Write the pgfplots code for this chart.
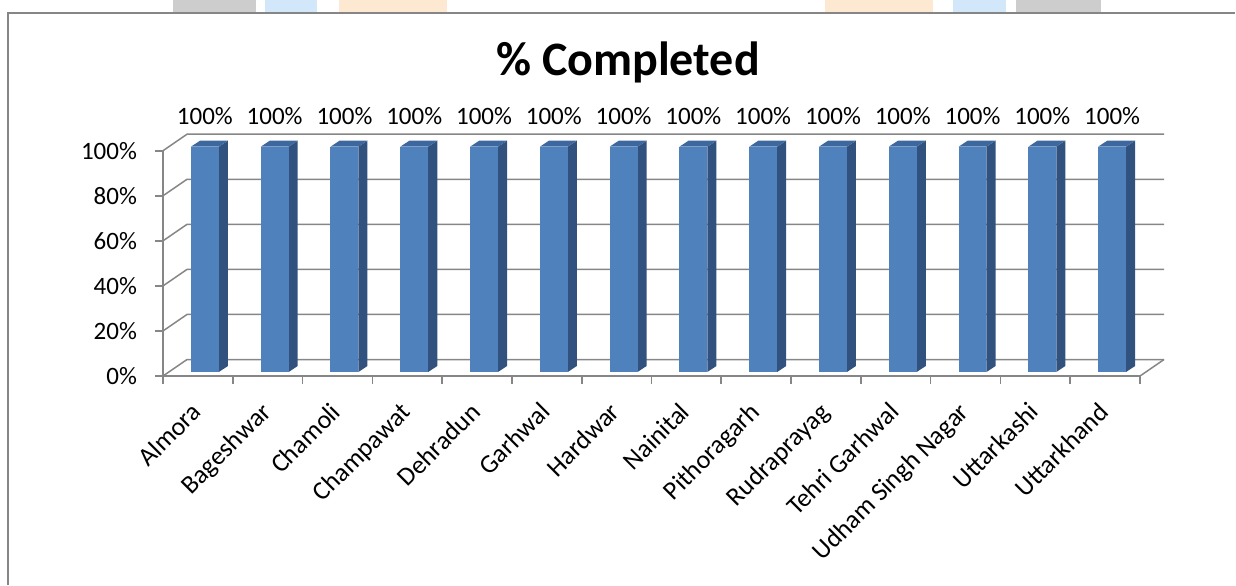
\documentclass[border=0pt]{standalone}
\usepackage{fontspec}
\setmainfont{Carlito}
\usepackage{pgfplots}
\usepackage{pgfplotstable}
\pgfplotsset{compat=1.18}
\definecolor{barfront}{HTML}{4F81BD}
\definecolor{barside}{HTML}{31527F}
\definecolor{bartop}{HTML}{3D689F}
\definecolor{gridgray}{HTML}{868686}
\definecolor{wmgray}{HTML}{CDCDCD}
\definecolor{wmblue}{HTML}{D2E7FA}
\definecolor{wmorange}{HTML}{FDE8D2}
\pgfplotstableread{
idx value
0 100
1 100
2 100
3 100
4 100
5 100
6 100
7 100
8 100
9 100
10 100
11 100
12 100
13 100
}\datatable
\begin{document}
\begin{tikzpicture}
\path[use as bounding box] (0,0) rectangle (618pt,-292.5pt);
% faint background shapes above the chart frame
\fill[wmgray] (86.5pt,0pt) rectangle (128pt,-6.5pt);
\fill[wmblue] (132.5pt,0pt) rectangle (158.5pt,-6.5pt);
\fill[wmorange] (169.5pt,0pt) rectangle (223.5pt,-6.5pt);
\fill[wmorange] (412.5pt,0pt) rectangle (466.5pt,-6.5pt);
\fill[wmblue] (476.5pt,0pt) rectangle (503pt,-6.5pt);
\fill[wmgray] (508pt,0pt) rectangle (550.5pt,-6.5pt);
% chart frame
\draw[gridgray, line width=0.75pt] (4pt,-292.5pt) -- (4pt,-6.5pt) -- (617.5pt,-6.5pt);
% title
\node[anchor=base, font=\fontsize{24}{28}\selectfont\bfseries] at (314pt,-37.5pt) {\% Completed};
\begin{axis}[
  at={(81.5pt,-188pt)}, anchor=south west,
  scale only axis, width=488.5pt, height=112.65pt,
  xmin=0, xmax=14, ymin=0, ymax=100,
  clip=false,
  axis x line*=bottom, axis y line*=left,
  axis line style={gridgray, line width=0.8pt, -},
  tick align=outside,
  major tick length=4pt,
  tick style={gridgray, line width=0.8pt},
  ytick={0,20,...,100},
  yticklabels={0\%,20\%,40\%,60\%,80\%,100\%},
  yticklabel style={xshift=-5.5pt},
  xtick={0,...,14}, xticklabels={},
  extra x ticks={0.5,1.5,...,13.5},
  extra x tick labels={Almora,Bageshwar,Chamoli,Champawat,Dehradun,Garhwal,Hardwar,Nainital,Pithoragarh,Rudraprayag,Tehri Garhwal,Udham Singh Nagar,Uttarkashi,Uttarkhand},
  extra x tick style={major tick length=0pt, tick label style={xshift=-4pt, yshift=-7.5pt, rotate=45, anchor=north east, font=\fontsize{13}{15}\selectfont}},
  tick label style={font=\fontsize{12.5}{15}\selectfont, text=black},
  /pgf/number format/assume math mode=true,
]
% back wall gridlines with side-wall diagonals
\pgfplotsinvokeforeach{0,20,40,60,80,100}{
  \pgfmathsetmacro\yb{#1+7.32}
  \addplot[gridgray, line width=0.75pt, mark=none] coordinates {(0,#1) (0.344,\yb) (14.344,\yb)};
}
\addplot[gridgray, line width=0.75pt, mark=none] coordinates {(14,0) (14.344,7.32)};
% 3D bars
\pgfplotsinvokeforeach{0,...,13}{
  \pgfplotstablegetelem{#1}{value}\of\datatable
  \pgfmathsetmacro\xl{#1+0.40}
  \pgfmathsetmacro\xr{#1+0.80}
  \pgfmathsetmacro\xbl{#1+0.53}
  \pgfmathsetmacro\xbr{#1+0.93}
  \pgfmathsetmacro\yt{\pgfplotsretval+1.78}
  \pgfmathsetmacro\ybt{\pgfplotsretval+4.44}
  \addplot[fill=barside, draw=none, mark=none] coordinates {(\xr,1.78) (\xbr,4.44) (\xbr,\ybt) (\xr,\yt)};
  \addplot[fill=bartop, draw=none, mark=none] coordinates {(\xl,\yt) (\xr,\yt) (\xbr,\ybt) (\xbl,\ybt)};
  \addplot[fill=barfront, draw=none, mark=none] coordinates {(\xl,1.78) (\xr,1.78) (\xr,\yt) (\xl,\yt)};
}
% data labels
\addplot[draw=none, mark=none, point meta=y,
  nodes near coords={\pgfmathprintnumber{\pgfplotspointmeta}\%},
  every node near coord/.append style={font=\fontsize{12.5}{15}\selectfont, anchor=south, yshift=9.5pt}]
  table[x expr=\coordindex+0.6, y=value] {\datatable};
\end{axis}
\end{tikzpicture}
\end{document}
